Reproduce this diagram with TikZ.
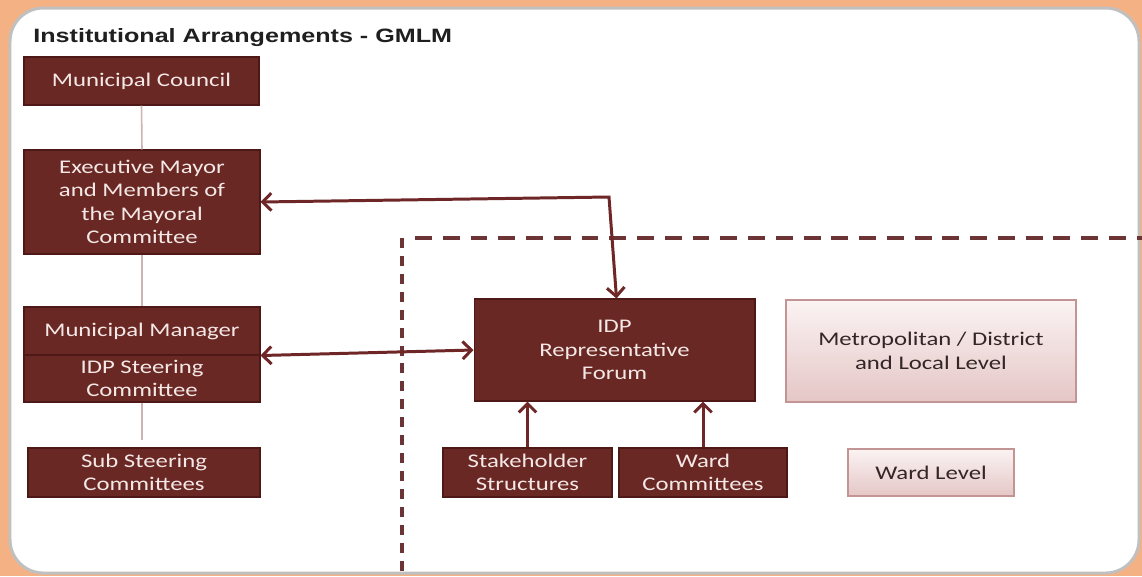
\documentclass[tikz,border=0pt]{standalone}
\usepackage{fontspec}
\setmainfont{Carlito}[FakeStretch=1.28]
\newfontfamily\titlefont{Liberation Sans}[FakeStretch=1.3]
\usetikzlibrary{arrows.meta,shadows}

\definecolor{maroon}{RGB}{106,40,36}
\definecolor{maroonedge}{RGB}{78,24,22}
\definecolor{boxtext}{RGB}{244,232,230}
\definecolor{pinktop}{RGB}{251,243,243}
\definecolor{pinkbot}{RGB}{229,198,198}
\definecolor{pinkedge}{RGB}{194,148,148}
\definecolor{pinktext}{RGB}{52,38,38}
\definecolor{linkred}{RGB}{110,38,38}
\definecolor{dashcol}{RGB}{108,52,52}
\definecolor{treeline}{RGB}{204,180,180}
\definecolor{bgorange}{RGB}{244,178,132}
\definecolor{panelrim}{RGB}{192,192,192}

\tikzset{
  barb/.tip={Straight Barb[length=5pt,width=10pt]},
  boxfont/.style={font=\fontsize{11}{13.3}\selectfont},
  darkbox/.style={boxfont, draw=maroonedge, line width=0.6pt, fill=maroon,
    text=boxtext, align=center, inner sep=0pt,
    drop shadow={shadow xshift=0.7pt, shadow yshift=-0.7pt, opacity=0.3}},
  lightbox/.style={boxfont, draw=pinkedge, line width=0.8pt,
    top color=pinktop, bottom color=pinkbot, text=pinktext,
    align=center, inner sep=0pt,
    drop shadow={shadow xshift=0.7pt, shadow yshift=-0.7pt, opacity=0.25}},
  link/.style={draw=linkred, line width=1.7pt, barb-barb},
  feed/.style={draw=linkred, line width=1.7pt, -barb},
  tree/.style={draw=treeline, line width=0.9pt},
  region/.style={draw=dashcol, line width=2.1pt},
}

\begin{document}
\begin{tikzpicture}[x=0.02cm, y=-0.02cm]
  \useasboundingbox (0,0) rectangle (1142,576);

  % background and white panel
  \fill[bgorange] (0,0) rectangle (1142,576);
  \draw[panelrim, line width=1.7pt, fill=white, rounded corners=19pt]
    (10,8) rectangle (1139,573);

  % heading
  \node[anchor=base west, inner sep=0pt, font=\titlefont\bfseries\fontsize{11}{13}\selectfont,
        text=black!88] (title) at (33,42) {Institutional Arrangements - GMLM};

  % left column: council hierarchy
  \node[darkbox, minimum width=4.70cm, minimum height=0.96cm] (mc) at (141.5,81)
    {Municipal Council};
  \node[darkbox, minimum width=4.72cm, minimum height=2.08cm] (em) at (142,202)
    {Executive Mayor\\and Members of\\the Mayoral\\Committee};
  \node[darkbox, minimum width=4.72cm, minimum height=0.96cm] (mmgr) at (142,331)
    {Municipal Manager};
  \node[darkbox, minimum width=4.72cm, minimum height=0.94cm] (steer) at (142,378.5)
    {IDP Steering\\Committee};
  \node[darkbox, minimum width=4.64cm, minimum height=0.98cm] (sub) at (144,472.5)
    {Sub Steering\\Committees};

  \draw[tree] (mc.south) -- (em.north);
  \draw[tree] (em.south) -- (mmgr.north);
  \draw[tree, shorten >=0.14cm] (steer.south) -- (steer.south |- sub.north);

  % participation region
  \coordinate (regcorner) at (402,238);
  \draw[region, dash pattern=on 5.7pt off 4.5pt] (regcorner) -- (402,578);
  \draw[region, dash pattern=on 9.6pt off 6.2pt] (415,238) -- (1144,238);

  \node[darkbox, minimum width=5.62cm, minimum height=2.04cm] (forum) at (614.5,350)
    {IDP\\Representative\\Forum};
  \node[darkbox, minimum width=3.38cm, minimum height=0.98cm] (sh) at (527.5,472.5)
    {Stakeholder\\Structures};
  \node[darkbox, minimum width=3.36cm, minimum height=0.98cm] (wc) at (703,472.5)
    {Ward\\Committees};

  \node[lightbox, minimum width=5.80cm, minimum height=2.04cm] (metro) at (931,351)
    {Metropolitan / District\\and Local Level};
  \node[lightbox, minimum width=3.32cm, minimum height=0.94cm] (wl) at (931,472.5)
    {Ward Level};

  % connectors
  \coordinate (bend) at (609,197);
  \draw[link] (em.east) -- (bend) -- ([xshift=0.04cm]forum.north);
  \draw[link] (mmgr.south east) -- (forum.west);
  \draw[feed] (sh.north) -- (sh.north |- forum.south);
  \draw[feed] (wc.north) -- (wc.north |- forum.south);
\end{tikzpicture}
\end{document}
